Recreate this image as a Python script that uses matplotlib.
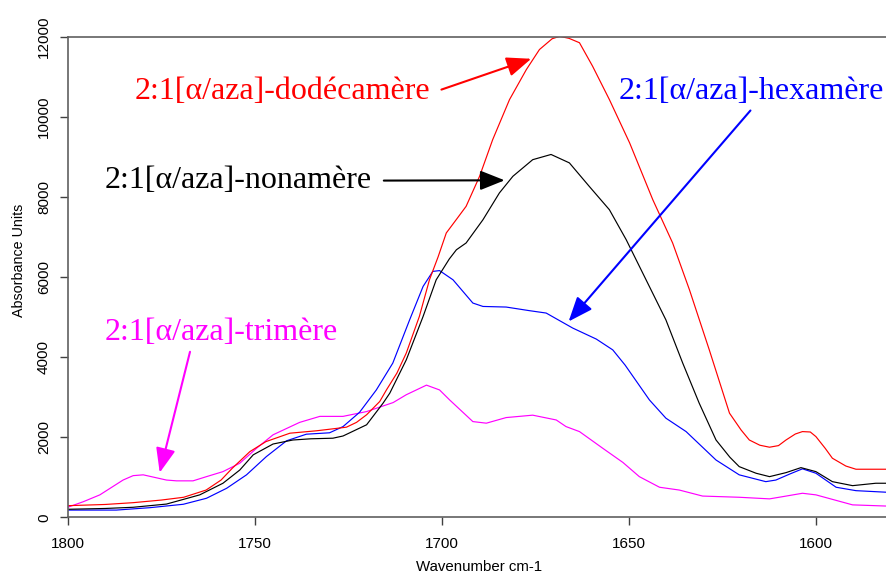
import matplotlib
matplotlib.use("Agg")
import matplotlib.pyplot as plt

# IR amide I region spectra of the 2:1 [alpha/aza] oligomers
red_x = [1800, 1790, 1782.5, 1775, 1769, 1763, 1759, 1756, 1751.3, 1747, 1740.6,
         1733.5, 1729, 1725.5, 1722.8, 1720.1, 1716.6, 1714.8, 1712, 1709.5, 1706,
         1703.3, 1701, 1698.8, 1696, 1693.5, 1689.9, 1686.4, 1681.9, 1677.4, 1673.9,
         1670.5, 1668.5, 1666, 1663.2, 1659.7, 1655.2, 1649.8, 1643.6, 1638.3, 1633.8,
         1628.5, 1623.1, 1620, 1617.8, 1615, 1612.4, 1610, 1608, 1605.5, 1603.6,
         1601.5, 1600, 1597.5, 1595.6, 1592, 1589.3, 1581]
red_y = [290, 320, 365, 430, 500, 680, 930, 1225, 1640, 1890, 2100,
         2160, 2210, 2250, 2370, 2560, 2890, 3180, 3600, 4100, 5015,
         5930, 6500, 7100, 7450, 7765, 8515, 9430, 10430, 11180, 11680,
         11950, 12010, 11960, 11850, 11265, 10430, 9350, 7930, 6850, 5680,
         4180, 2600, 2180, 1930, 1800, 1750, 1790, 1930, 2080, 2140,
         2130, 2015, 1720, 1475, 1280, 1200, 1200]

black_x = [1800, 1790, 1782.5, 1773.6, 1764.7, 1758.5, 1754, 1750.4, 1745.1, 1739.8,
           1735, 1729.1, 1726.4, 1720.1, 1715.7, 1713.9, 1709.5, 1705, 1701.5, 1698,
           1696.1, 1693.5, 1689, 1684.6, 1681, 1675.7, 1670.8, 1665.9, 1660.6, 1655.2,
           1650.7, 1645.4, 1640.1, 1635.6, 1631.2, 1626.7, 1623, 1620.5, 1616, 1612.4,
           1608, 1604, 1600, 1595.6, 1590.2, 1584, 1581]
black_y = [200, 220, 250, 330, 560, 850, 1180, 1560, 1830, 1930,
           1960, 1975, 2030, 2310, 2850, 3100, 3930, 5015, 5930, 6450,
           6680, 6850, 7430, 8100, 8515, 8930, 9060, 8850, 8265, 7680,
           6930, 5930, 4930, 3850, 2850, 1930, 1500, 1265, 1100, 1015,
           1115, 1240, 1140, 890, 790, 850, 850]

blue_x = [1800, 1787, 1778, 1769.1, 1762.9, 1757.5, 1752.2, 1746.9, 1741.5, 1736.2,
          1730, 1726.4, 1722, 1717.5, 1713.1, 1708.6, 1705, 1702.4, 1700.6, 1697,
          1691.7, 1689, 1682.8, 1676.6, 1672.1, 1665, 1658.7, 1654.3, 1651, 1644.5,
          1640.1, 1634.7, 1626.7, 1620.5, 1613.4, 1610.7, 1607, 1603.6, 1600, 1594.6,
          1589.3, 1581]
blue_y = [180, 180, 240, 325, 475, 725, 1060, 1515, 1910, 2075,
          2110, 2265, 2620, 3180, 3850, 4930, 5765, 6140, 6160, 5930,
          5350, 5265, 5250, 5160, 5100, 4725, 4450, 4180, 3800, 2930,
          2475, 2140, 1430, 1060, 890, 930, 1080, 1210, 1100, 750,
          665, 625]

magenta_x = [1800, 1795.8, 1791.4, 1785.2, 1782.5, 1779.8, 1773.6, 1770.9, 1766.5, 1762.9,
             1758.5, 1754, 1749.5, 1745.1, 1738, 1732.6, 1726.4, 1720.1, 1713, 1709.5,
             1704.1, 1700.6, 1697.9, 1691.7, 1688.1, 1682.8, 1675.7, 1669.4, 1666.8, 1663.2,
             1657, 1651.6, 1647.2, 1641.8, 1636.5, 1630.3, 1620.5, 1612.4, 1608.9, 1603.6,
             1600, 1590.2, 1581]
magenta_y = [250, 390, 560, 930, 1040, 1060, 930, 910, 910, 1015,
             1140, 1350, 1725, 2060, 2370, 2520, 2520, 2640, 2865, 3060,
             3300, 3180, 2930, 2390, 2350, 2490, 2550, 2430, 2265, 2140,
             1725, 1370, 1015, 750, 680, 530, 500, 460, 515, 600,
             560, 310, 280]

x_ticks = [1800, 1750, 1700, 1650, 1600]
y_ticks = [0, 2000, 4000, 6000, 8000, 10000, 12000]

labels = {
    "dodeca": "2:1[α/aza]-dodécamère",
    "nona": "2:1[α/aza]-nonamère",
    "hexa": "2:1[α/aza]-hexamère",
    "tri": "2:1[α/aza]-trimère",
}

W, H = 887, 574
fig = plt.figure(figsize=(W / 100, H / 100), dpi=100)
ax = fig.add_axes([0.0763, 0.0988, 0.9237, 0.8372])

ax.plot(magenta_x, magenta_y, color="#ff00ff", lw=0.85)
ax.plot(blue_x, blue_y, color="#0000ff", lw=0.85)
ax.plot(black_x, black_y, color="black", lw=0.85)
ax.plot(red_x, red_y, color="#ff0000", lw=0.85)

ax.set_xlim(1800, 1581)
ax.set_ylim(0, 12000)
ax.set_xticks(x_ticks)
ax.set_yticks(y_ticks)

tick_font = dict(family="Liberation Sans", size=11)
ax.set_xticklabels([str(v) for v in x_ticks], **tick_font)
ax.set_yticklabels([str(v) for v in y_ticks], rotation=90, va="center", **tick_font)
ax.tick_params(axis="x", direction="out", length=6, width=1, color="#404040", pad=8)
ax.tick_params(axis="y", direction="out", length=6, width=1, color="#404040", pad=6)

for side in ("left", "bottom", "top"):
    ax.spines[side].set_color("#606060")
    ax.spines[side].set_linewidth(1.2)
ax.spines["right"].set_visible(False)

axis_font = dict(family="Liberation Sans", size=10.8)
fig.text(479.5 / W, 1 - 571 / H, "Wavenumber cm-1", ha="center", va="baseline", **axis_font)
fig.text(19 / W, 1 - 260 / H, "Absorbance Units", ha="center", va="center",
         rotation=90, **dict(axis_font, size=10.3))

serif = dict(family="Liberation Serif", size=23)
ax.text(1782, 10455, labels["dodeca"], color="#ff0000", ha="left", va="baseline", **serif)
ax.text(1790, 8233, labels["nona"], color="black", ha="left", va="baseline", **serif)
ax.text(1652.8, 10455, labels["hexa"], color="#0000ff", ha="left", va="baseline", **serif)
ax.text(1790, 4415, labels["tri"], color="#ff00ff", ha="left", va="baseline", **serif)

arrow_style = "-|>,head_length=1.5,head_width=0.6"


def arrow(tail, tip, color):
    ax.annotate("", xy=tip, xytext=tail,
                arrowprops=dict(arrowstyle=arrow_style, color=color, lw=1.5,
                                mutation_scale=10, shrinkA=0, shrinkB=0))


arrow((1700.1, 10680), (1676.1, 11450), "#ff0000")
arrow((1715.5, 8408), (1683.2, 8415), "black")
arrow((1617.5, 10158), (1666.1, 4890), "#0000ff")
arrow((1767.3, 4133), (1775.4, 1115), "#ff00ff")

fig.savefig("out.png", dpi=100)
